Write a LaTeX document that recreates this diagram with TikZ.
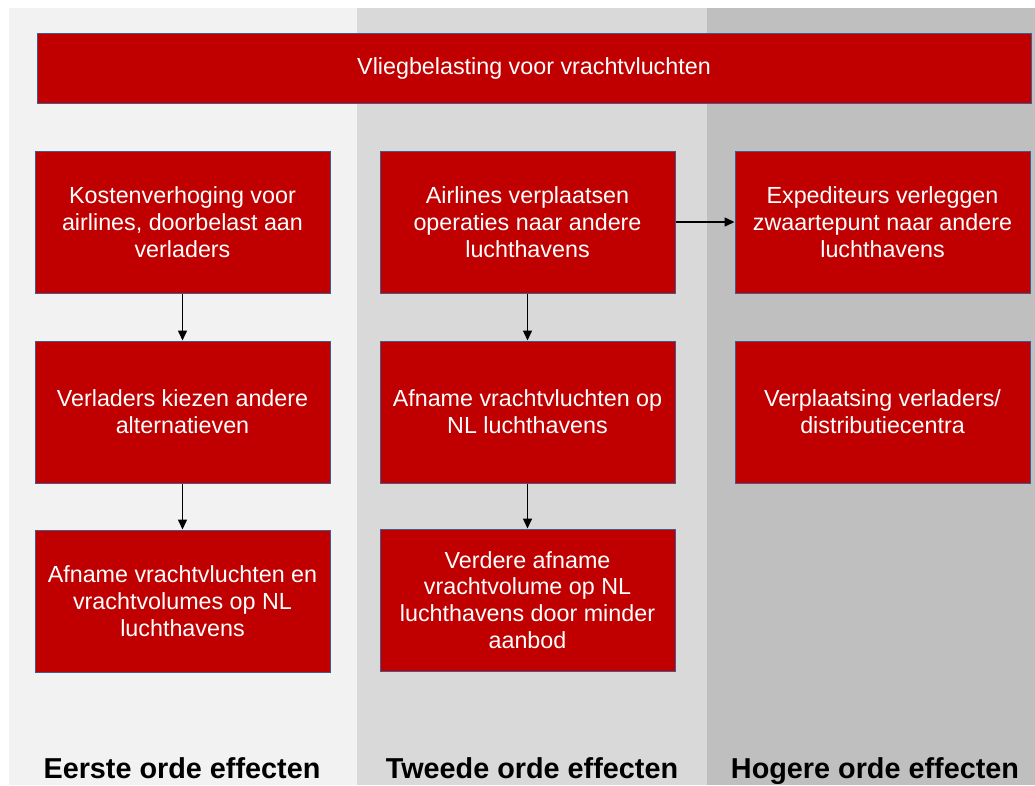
\documentclass[tikz,border=0pt]{standalone}
\usepackage{fontspec}
\setmainfont{Liberation Sans}
\usetikzlibrary{arrows.meta}
\definecolor{boxred}{HTML}{C00000}
\definecolor{boxedge}{RGB}{68,90,140}
\definecolor{colA}{HTML}{F2F2F2}
\definecolor{colB}{HTML}{D9D9D9}
\definecolor{colC}{HTML}{BFBFBF}
\begin{document}
\begin{tikzpicture}[x=1pt,y=-1pt,
  effbox/.style={draw=boxedge, line width=1pt, fill=boxred, text=white,
    minimum width=295pt, minimum height=142pt, inner sep=0pt, align=center,
    font=\fontsize{23.3}{26.7}\selectfont},
  topbar/.style={draw=boxedge, line width=1pt, fill=boxred, text=white,
    minimum width=994pt, minimum height=70pt, inner sep=0pt,
    font=\fontsize{23.3}{26.7}\selectfont},
  collabel/.style={font=\bfseries\fontsize{28.8}{32}\selectfont, anchor=base, inner sep=0pt},
  arr/.style={line width=1.5pt, -{Triangle[length=10pt,width=9pt]}}]
\useasboundingbox (0,0) rectangle (1035,785);
\fill[white] (0,0) rectangle (1035,785);
\fill[colA] (9,8) rectangle (357,785);
\fill[colB] (357,8) rectangle (707,785);
\fill[colC] (707,8) rectangle (1035,785);

\node[topbar] (top) at (534,68) {Vliegbelasting voor vrachtvluchten};

\node[effbox] (a1) at (182.5,222) {Kostenverhoging voor\\airlines, doorbelast aan\\verladers};
\node[effbox] (a2) at (182.5,412) {Verladers kiezen andere\\alternatieven};
\node[effbox] (a3) at (182.5,601) {Afname vrachtvluchten en\\vrachtvolumes op NL\\luchthavens};

\node[effbox] (b1) at (527.5,222) {Airlines verplaatsen\\operaties naar andere\\luchthavens};
\node[effbox] (b2) at (527.5,412) {Afname vrachtvluchten op\\NL luchthavens};
\node[effbox] (b3) at (527.5,600) {Verdere afname\\vrachtvolume op NL\\luchthavens door minder\\aanbod};

\node[effbox] (c1) at (882.5,222) {Expediteurs verleggen\\zwaartepunt naar andere\\luchthavens};
\node[effbox] (c2) at (882.5,412) {Verplaatsing verladers/\\distributiecentra};

\draw[arr] (a1) -- (a2);
\draw[arr] (a2) -- (a3);
\draw[arr] (b1) -- (b2);
\draw[arr] (b2) -- (b3);
\draw[arr] (b1) -- (c1);

\node[collabel] (l1) at (182,778) {Eerste orde effecten};
\node[collabel] (l2) at (532,778) {Tweede orde effecten};
\node[collabel] (l3) at (875,778) {Hogere orde effecten};
\end{tikzpicture}
\end{document}
